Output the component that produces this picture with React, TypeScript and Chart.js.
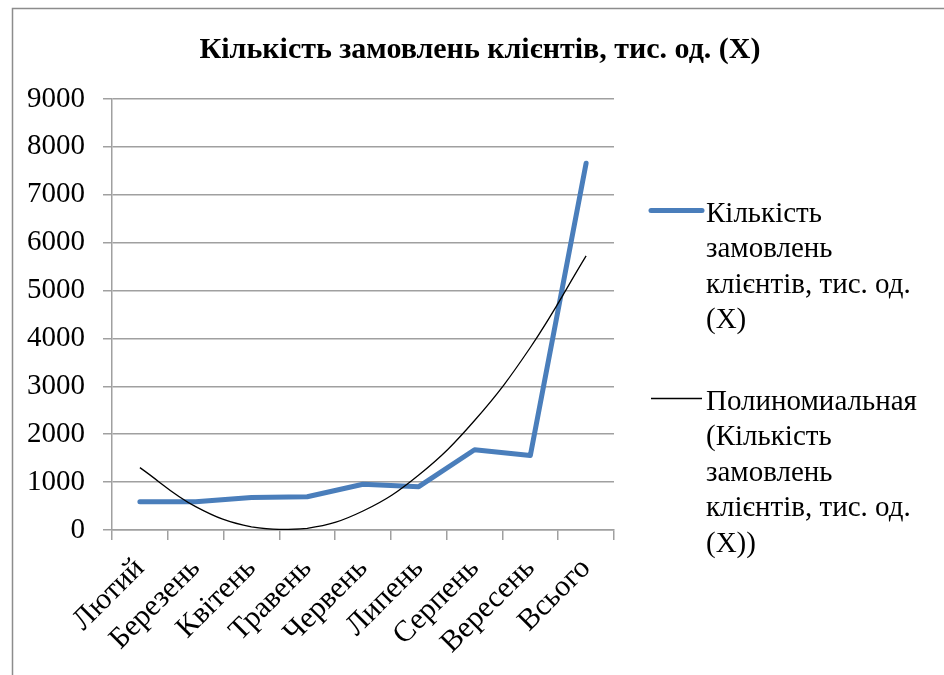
import React, { useEffect, useRef } from "react";
import { Chart, registerables } from "chart.js";

Chart.register(...registerables);

const categories = ["Лютий", "Березень", "Квітень", "Травень", "Червень", "Липень", "Серпень", "Вересень", "Всього"];
const orders = [590, 590, 680, 695, 955, 905, 1675, 1555, 7660];
const trend = [1303, 489, 66, 35, 396, 1148, 2286, 3811, 5723];
const yMin = 0;
const yMax = 9000;
const yStep = 1000;
const titleText = "Кількість замовлень клієнтів, тис. од. (X)";
const legendSeries = ["Кількість", "замовлень", "клієнтів, тис. од.", "(X)"];
const legendTrend = ["Полиномиальная", "(Кількість", "замовлень", "клієнтів, тис. од.", "(X))"];

const SERIF = "'Liberation Serif', 'Times New Roman', serif";
const BLUE = "#4a7ebb";
const GRID = "#a0a0a0";

const framePlugin = {
  id: "frame",
  beforeDraw(chart: any) {
    const ctx = chart.ctx;
    ctx.save();
    ctx.fillStyle = "#ffffff";
    ctx.fillRect(0, 0, chart.width, chart.height);
    ctx.strokeStyle = "#8c8c8c";
    ctx.lineWidth = 1.5;
    ctx.strokeRect(12.5, 8.5, chart.width + 50, chart.height + 50);
    ctx.restore();
  },
};

const titlePlugin = {
  id: "centerTitle",
  afterDraw(chart: any) {
    const ctx = chart.ctx;
    ctx.save();
    ctx.font = `bold 30px ${SERIF}`;
    ctx.fillStyle = "#000";
    ctx.textAlign = "center";
    ctx.textBaseline = "alphabetic";
    ctx.fillText(titleText, (chart.width + 16) / 2, 58);
    ctx.restore();
  },
};

const legendPlugin = {
  id: "sideLegend",
  afterDraw(chart: any) {
    const ctx = chart.ctx;
    const area = chart.chartArea;
    const lineX0 = area.right + 37;
    const lineX1 = area.right + 88;
    const textX = area.right + 92;
    const lh = 35.5;
    ctx.save();
    ctx.font = `29px ${SERIF}`;
    ctx.fillStyle = "#000";
    ctx.textAlign = "left";
    ctx.textBaseline = "alphabetic";
    const items = [
      { lines: legendSeries, color: BLUE, width: 5, y: area.top + 111.5 },
      { lines: legendTrend, color: "#000", width: 1.3, y: area.top + 299.5 },
    ];
    items.forEach((it) => {
      ctx.strokeStyle = it.color;
      ctx.lineWidth = it.width;
      ctx.lineCap = it.width > 2 ? "round" : "butt";
      ctx.beginPath();
      ctx.moveTo(lineX0, it.y);
      ctx.lineTo(lineX1, it.y);
      ctx.stroke();
      it.lines.forEach((t, i) => {
        ctx.fillText(t, textX, it.y + 11 + i * lh);
      });
    });
    ctx.restore();
  },
};

export default function App() {
  const ref = useRef<HTMLCanvasElement | null>(null);
  useEffect(() => {
    if (!ref.current) return;
    const chart = new Chart(ref.current, {
      type: "line",
      data: {
        labels: categories,
        datasets: [
          {
            label: legendSeries.join(" "),
            data: orders,
            borderColor: BLUE,
            backgroundColor: BLUE,
            borderWidth: 5,
            pointRadius: 0,
            tension: 0,
            borderJoinStyle: "round",
            borderCapStyle: "round",
            order: 2,
          },
          {
            label: legendTrend.join(" "),
            data: trend,
            borderColor: "#000000",
            backgroundColor: "#000000",
            borderWidth: 1.3,
            pointRadius: 0,
            tension: 0.4,
            order: 1,
          },
        ],
      },
      options: {
        responsive: false,
        animation: false,
        layout: { padding: { left: 16, right: 330, top: 99, bottom: 0 } },
        plugins: {
          legend: { display: false },
          tooltip: { enabled: false },
          title: { display: false },
        },
        scales: {
          x: {
            type: "category",
            offset: true,
            grid: {
              offset: true,
              drawOnChartArea: false,
              drawTicks: true,
              tickLength: 10,
              color: GRID,
              lineWidth: 1.5,
            },
            border: { display: true, color: GRID, width: 1.5 },
            ticks: {
              color: "#000",
              font: { family: SERIF, size: 30 },
              minRotation: 45,
              maxRotation: 45,
              autoSkip: false,
              padding: 11,
            },
            afterFit(scale: any) {
              scale.height = 145;
            },
          },
          y: {
            min: yMin,
            max: yMax,
            grid: {
              color: GRID,
              lineWidth: 1.5,
              tickLength: 9,
            },
            border: { display: true, color: GRID, width: 1.5 },
            ticks: {
              stepSize: yStep,
              color: "#000",
              font: { family: SERIF, size: 29 },
              padding: 18,
              callback: (v: any) => String(v),
            },
            afterFit(scale: any) {
              scale.width = 96;
            },
          },
        },
      },
      plugins: [framePlugin, titlePlugin, legendPlugin],
    });
    return () => chart.destroy();
  }, []);
  return (
    <div style={{ position: "absolute", left: 0, top: 0, width: 944, height: 675 }}>
      <canvas ref={ref} width={944} height={675} style={{ display: "block" }} />
    </div>
  );
}
